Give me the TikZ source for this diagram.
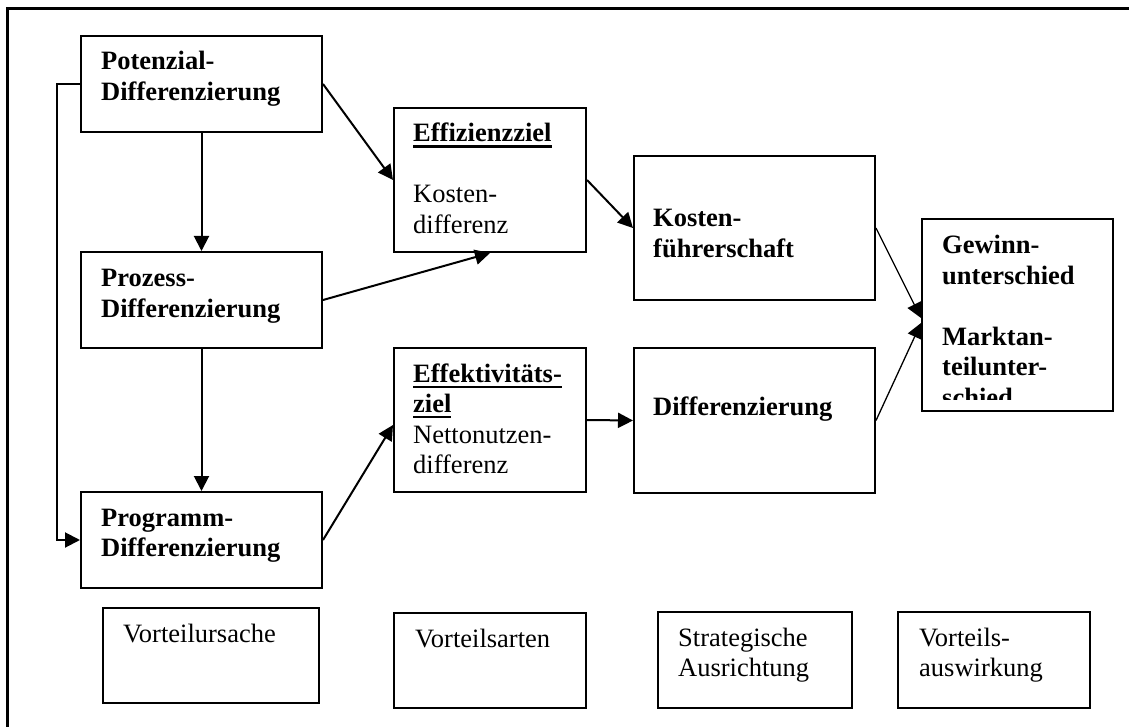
\documentclass[tikz,border=0pt]{standalone}
\usepackage{fontspec}
\setmainfont{Liberation Serif}
\usetikzlibrary{arrows.meta}

% underline drawn as a rule below the baseline
\newlength{\myulwd}
\newcommand{\myul}[1]{\leavevmode\settowidth{\myulwd}{#1}\rlap{\rule[-5.7pt]{\myulwd}{2.2pt}}#1}

\begin{document}
\begin{tikzpicture}[x=1pt,y=-1pt,
  box/.style={draw, line width=2pt, inner sep=0pt, anchor=north west},
  lab/.style={anchor=base west, inner sep=0pt, text width=300pt, align=left,
    font=\fontsize{26.5pt}{30.5pt}\selectfont},
  blab/.style={lab, font=\fontsize{26.5pt}{30.5pt}\selectfont\bfseries},
  arr/.style={line width=2pt, -{Triangle[length=15pt,width=15pt]}},
  thinarr/.style={line width=1.3pt, -{Triangle[length=15pt,width=15pt]}}]

\fill[white] (0,0) rectangle (1129,727);
\useasboundingbox (0,0) rectangle (1129,727);

% outer frame (only top and left edges fall inside the page)
\draw[line width=3pt] (7,727) -- (7,9) -- (1129,9);

% boxes
\node[box, minimum width=241pt, minimum height=96pt]  (pot)  at (80,35)   {};
\node[box, minimum width=241pt, minimum height=96pt]  (proz) at (80,251)  {};
\node[box, minimum width=241pt, minimum height=96pt]  (prog) at (80,491)  {};
\node[box, minimum width=192pt, minimum height=144pt] (eff)  at (393,107) {};
\node[box, minimum width=192pt, minimum height=144pt] (eft)  at (393,347) {};
\node[box, minimum width=241pt, minimum height=144pt] (kost) at (633,155) {};
\node[box, minimum width=241pt, minimum height=145pt] (diff) at (633,347) {};
\node[box, minimum width=191pt, minimum height=192pt] (gew)  at (921,218) {};
\node[box, minimum width=216pt, minimum height=95pt]  (b1)   at (102,607) {};
\node[box, minimum width=192pt, minimum height=95pt]  (b2)   at (393,612) {};
\node[box, minimum width=194pt, minimum height=96pt]  (b3)   at (657,611) {};
\node[box, minimum width=192pt, minimum height=96pt]  (b4)   at (897,611) {};

% box texts
\node[blab] (potT)  at ([xshift=21pt,yshift=-35pt]pot.north west)  {Potenzial-\\Differenzierung};
\node[blab] (prozT) at ([xshift=21pt,yshift=-36pt]proz.north west) {Prozess-\\Differenzierung};
\node[blab] (progT) at ([xshift=21pt,yshift=-35pt]prog.north west) {Programm-\\Differenzierung};
\node[lab]  (effT)  at ([xshift=20pt,yshift=-35pt]eff.north west)
  {\myul{\textbf{Effizienzziel}}\\[30.5pt]Kosten-\\differenz};
\node[lab]  (eftT)  at ([xshift=20pt,yshift=-35pt]eft.north west)
  {\myul{\textbf{Effektivitäts-}}\\ \myul{\textbf{ziel}}\\Nettonutzen-\\differenz};
\node[blab] (kostT) at ([xshift=20pt,yshift=-72pt]kost.north west) {Kosten-\\führerschaft};
\node[blab] (diffT) at ([xshift=20pt,yshift=-68pt]diff.north west) {Differenzierung};
\begin{scope}
  \clip (921,218) rectangle (1112,399);
  \node[blab] (gewT) at ([xshift=21pt,yshift=-36pt]gew.north west)
    {Gewinn-\\unterschied\\[30.5pt]Marktan-\\teilunter-\\schied};
\end{scope}
\node[lab] (b1T) at ([xshift=21pt,yshift=-35pt]b1.north west) {Vorteilursache};
\node[lab] (b2T) at ([xshift=22pt,yshift=-35pt]b2.north west) {Vorteilsarten};
\node[lab] (b3T) at ([xshift=21pt,yshift=-35pt]b3.north west) {Strategische\\Ausrichtung};
\node[lab] (b4T) at ([xshift=22pt,yshift=-35pt]b4.north west) {Vorteils-\\auswirkung};

% connectors
\draw[arr] (pot.south) -- (proz.north);
\draw[arr] (proz.south) -- (prog.north);
\draw[arr] (pot.west) -- ++(-23,0) |- (prog.west);
\draw[arr] (pot.east) -- (eff.west);
\draw[arr] (proz.east) -- (eff.south);
\draw[arr] (eff.east) -- (kost.west);
\draw[arr] (prog.east) -- ([yshift=-5pt]eft.west);
\draw[arr] (eft.east) -- (diff.west);
\draw[thinarr] (kost.east) -- ([yshift=-3pt]gew.west);
\draw[thinarr] (diff.east) -- ([yshift=-8pt]gew.west);
\end{tikzpicture}
\end{document}
